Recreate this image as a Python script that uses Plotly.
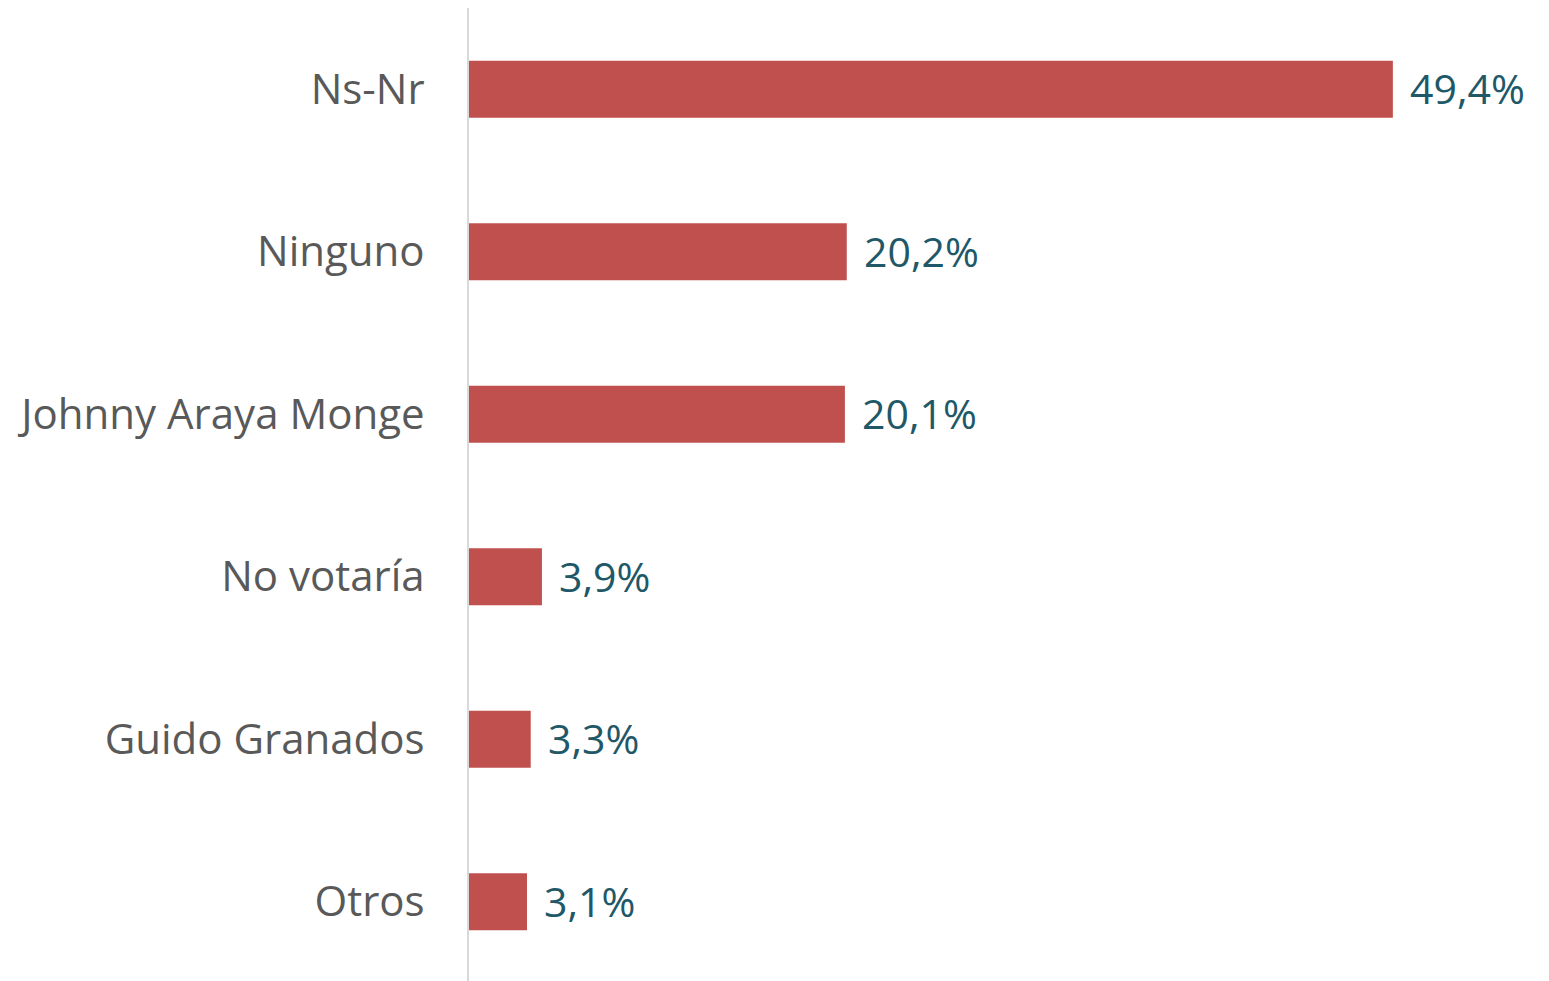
import plotly.graph_objects as go

categories = ["Ns-Nr", "Ninguno", "Johnny Araya Monge", "No votaría", "Guido Granados", "Otros"]
values = [49.4, 20.2, 20.1, 3.9, 3.3, 3.1]
labels = ["49,4%", "20,2%", "20,1%", "3,9%", "3,3%", "3,1%"]

fig = go.Figure()
fig.add_trace(go.Bar(
    y=categories, x=values, orientation="h",
    marker=dict(color="#C0504D", line=dict(width=0)),
    width=0.35, hoverinfo="skip",
))
for c, v, t in zip(categories, values, labels):
    fig.add_annotation(x=v, y=c, text=t, showarrow=False, xanchor="left",
                       xshift=15, yshift=1,
                       font=dict(family="Open Sans", size=41, color="#215868"))

fig.update_layout(
    width=1541, height=975,
    margin=dict(l=461, r=14, t=0, b=0),
    plot_bgcolor="white", paper_bgcolor="white",
    showlegend=False,
)
fig.update_xaxes(range=[0, 57], visible=False, showgrid=False, zeroline=False)
fig.update_yaxes(autorange="reversed", showgrid=False, zeroline=False,
                 showline=True, linecolor="#D9D9D9", linewidth=2,
                 ticks="", ticklabelstandoff=34,
                 tickfont=dict(family="Open Sans", size=42, color="#595959"))

fig.write_html("out.html")
